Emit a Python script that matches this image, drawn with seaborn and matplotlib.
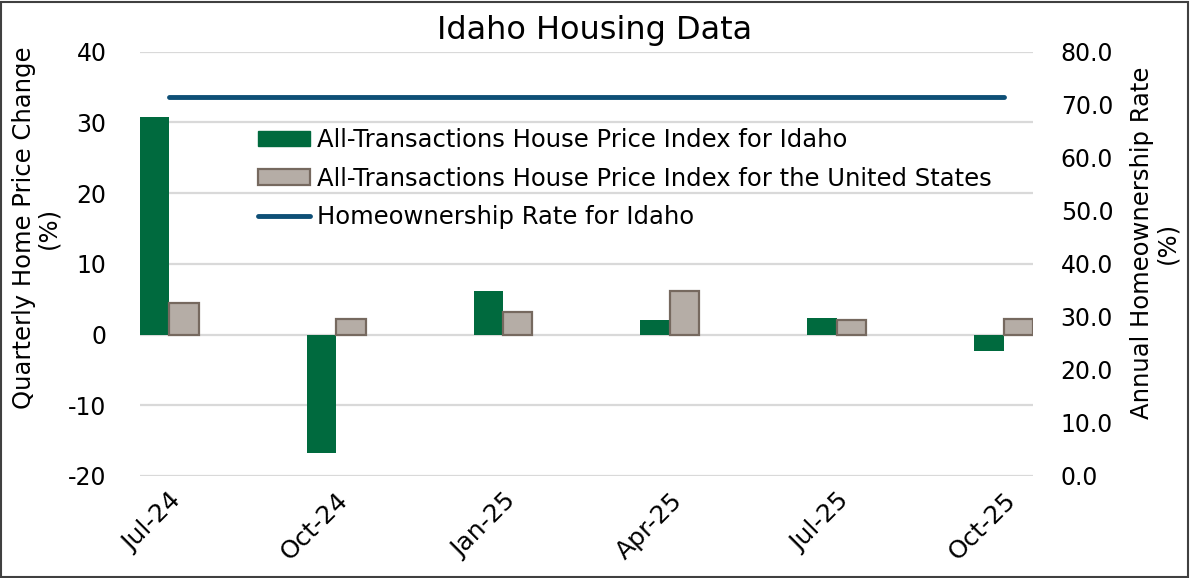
import matplotlib
matplotlib.use("Agg")
import matplotlib.pyplot as plt
import seaborn as sns
import pandas as pd
from matplotlib.patches import Rectangle
from matplotlib.lines import Line2D

# data
quarters = ["Jul-24", "Oct-24", "Jan-25", "Apr-25", "Jul-25", "Oct-25"]
idaho_hpi = [30.8, -16.7, 6.2, 2.1, 2.3, -2.3]
us_hpi = [4.4, 2.2, 3.2, 6.2, 2.1, 2.2]
homeownership = [71.5, 71.5, 71.5, 71.5, 71.5, 71.5]

idaho_name = "All-Transactions House Price Index for Idaho"
us_name = "All-Transactions House Price Index for the United States"
own_name = "Homeownership Rate for Idaho"

green = "#006a3e"
grey = "#b5ada6"
grey_edge = "#76695f"
blue = "#0e4f76"

df = pd.DataFrame({
    "quarter": quarters * 2,
    "change": idaho_hpi + us_hpi,
    "series": [idaho_name] * len(quarters) + [us_name] * len(quarters),
})

sns.set_style("white")
plt.rcParams["font.family"] = ["DejaVu Sans"]
plt.rcParams["axes.unicode_minus"] = False
plt.rcParams["text.color"] = "black"
plt.rcParams["axes.labelcolor"] = "black"
plt.rcParams["xtick.color"] = "black"
plt.rcParams["ytick.color"] = "black"

fig = plt.figure(figsize=(11.9, 5.78), dpi=100)
ax = fig.add_axes([0.1176, 0.1765, 0.7504, 0.7341])

sns.barplot(data=df, x="quarter", y="change", hue="series",
            palette=[green, grey], width=0.352, gap=0, ax=ax,
            legend=False, saturation=1)
for i, p in enumerate(ax.patches):
    if i >= len(quarters):
        p.set_edgecolor(grey_edge)
        p.set_linewidth(1.6)
    else:
        p.set_linewidth(0)

ax.set_ylim(-20, 40)
ax.set_yticks(range(-20, 41, 10))
ax.set_xlim(-0.176, len(quarters) - 1 + 0.176)
ax.grid(axis="y", color="#d9d9d9", linewidth=1.6)
ax.set_axisbelow(True)
for s in ax.spines.values():
    s.set_visible(False)
ax.tick_params(axis="both", length=0, colors="black")
ax.tick_params(axis="y", pad=24, labelsize=17)
ax.tick_params(axis="x", pad=9, labelsize=18)
ax.set_xlabel("")
ax.set_ylabel("Quarterly Home Price Change\n(%)", fontsize=17.5,
              linespacing=1.05)
ax.yaxis.set_label_coords(-0.089, 0.584)
for lbl in ax.get_xticklabels():
    lbl.set_rotation(45)
    lbl.set_ha("right")
    lbl.set_rotation_mode("anchor")

ax2 = ax.twinx()
sns.lineplot(x=list(range(len(quarters))), y=homeownership, ax=ax2,
             color=blue, linewidth=3.5, solid_capstyle="round")
ax2.set_ylim(0, 80)
ax2.set_yticks(range(0, 81, 10))
ax2.set_yticklabels([f"{v:.1f}" for v in range(0, 81, 10)])
for s in ax2.spines.values():
    s.set_visible(False)
ax2.tick_params(axis="y", length=0, labelsize=17, pad=20, colors="black")
ax2.set_ylabel("Annual Homeownership Rate\n(%)", fontsize=17.5,
               linespacing=1.05, rotation=90)
ax2.yaxis.set_label_coords(1.109, 0.549)
ax2.grid(False)

handles = [
    Rectangle((0, 0), 1, 1, facecolor=green, edgecolor=green),
    Rectangle((0, 0), 1, 1, facecolor=grey, edgecolor=grey_edge, linewidth=1.6),
    Line2D([0], [0], color=blue, linewidth=3.5, solid_capstyle="round"),
]
ax2.legend(handles, [idaho_name, us_name, own_name], loc="upper left",
           bbox_to_anchor=(0.132, 0.82), frameon=False, fontsize=17.5,
           handlelength=2.15, handleheight=0.6, labelspacing=0.6,
           handletextpad=0.3, borderpad=0, borderaxespad=0)

fig.text(0.5, 0.948, "Idaho Housing Data", ha="center", va="center",
         fontsize=23)
fig.patches.append(Rectangle((0.001, 0.002), 0.997, 0.995,
                             transform=fig.transFigure, fill=False,
                             edgecolor="#404040", linewidth=1.5))

fig.savefig("out.png", dpi=100)
